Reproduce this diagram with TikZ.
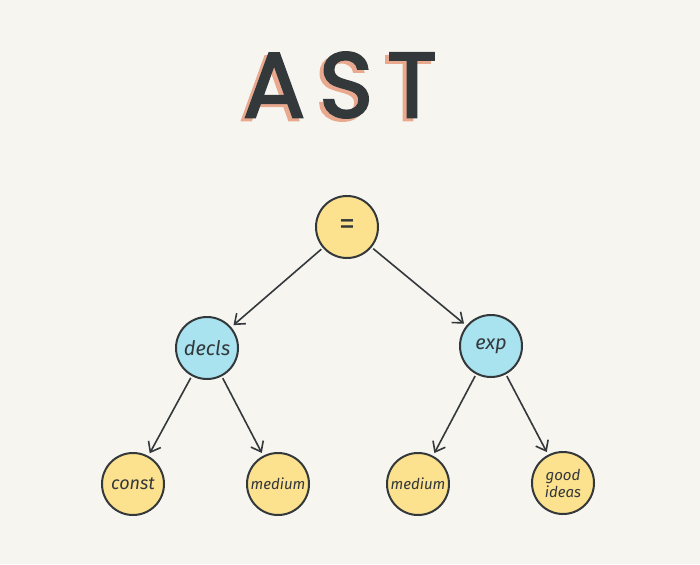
\documentclass[tikz,border=0pt]{standalone}
\usepackage{fontspec}
\setmainfont{Fira Sans}
\newfontfamily\titlefont[BoldFont=Poppins,BoldFeatures={FakeBold=2.5}]{Poppins}
\usetikzlibrary{positioning,arrows.meta}
\definecolor{paper}{HTML}{F7F5F0}
\definecolor{ink}{HTML}{33383B}
\definecolor{sun}{HTML}{FCE18E}
\definecolor{sky}{HTML}{A8E3EF}
\definecolor{salmon}{HTML}{E9A98F}
\tikzset{
  tnode/.style={circle,draw=ink,line width=2pt,minimum size=62pt,inner sep=0pt,
                text=ink,font=\itshape,align=center},
  root/.style={tnode,fill=sun,font=\fontsize{32}{34}\selectfont},
  mid/.style={tnode,fill=sky,font=\itshape\fontsize{20}{22}\selectfont},
  leaf/.style={tnode,fill=sun,font=\itshape\fontsize{15}{16}\selectfont},
  title/.style={font=\titlefont\bfseries\fontsize{92}{96}\selectfont},
  edge/.style={-{Straight Barb[length=9pt,width=14pt,line width=1.6pt]},ink,line width=1.6pt,
               shorten <=2pt,shorten >=3pt},
}
\begin{document}
\begin{tikzpicture}[x=1pt,y=-1pt]
  \useasboundingbox[fill=paper] (0,0) rectangle (700,564);
  % ---- title ----
  \node[title,text=salmon] (shadow) at (336,88) {A\hspace{14pt}S\hspace{14pt}T};
  \node[title,text=ink] (ast) at (340,85) {A\hspace{14pt}S\hspace{14pt}T};
  % ---- tree ----
  \node[root] (eq) at (347,227) {=};
  \node[mid] (decls) at (207,348) {decls};
  \node[mid] (exp) at (491,346) {exp};
  \node[leaf,font=\itshape\fontsize{18}{20}\selectfont] (const) at (133,484) {const};
  \node[leaf] (medA) at (278,484) {medium};
  \node[leaf] (medB) at (418,484) {medium};
  \node[leaf] (good) at (563,483) {good\\[1pt]ideas};
  % ---- edges ----
  \draw[edge] (eq) -- (decls);
  \draw[edge] (eq) -- (exp);
  \draw[edge] (decls) -- (const);
  \draw[edge] (decls) -- (medA);
  \draw[edge] (exp) -- (medB);
  \draw[edge] (exp) -- (good);
\end{tikzpicture}
\end{document}
